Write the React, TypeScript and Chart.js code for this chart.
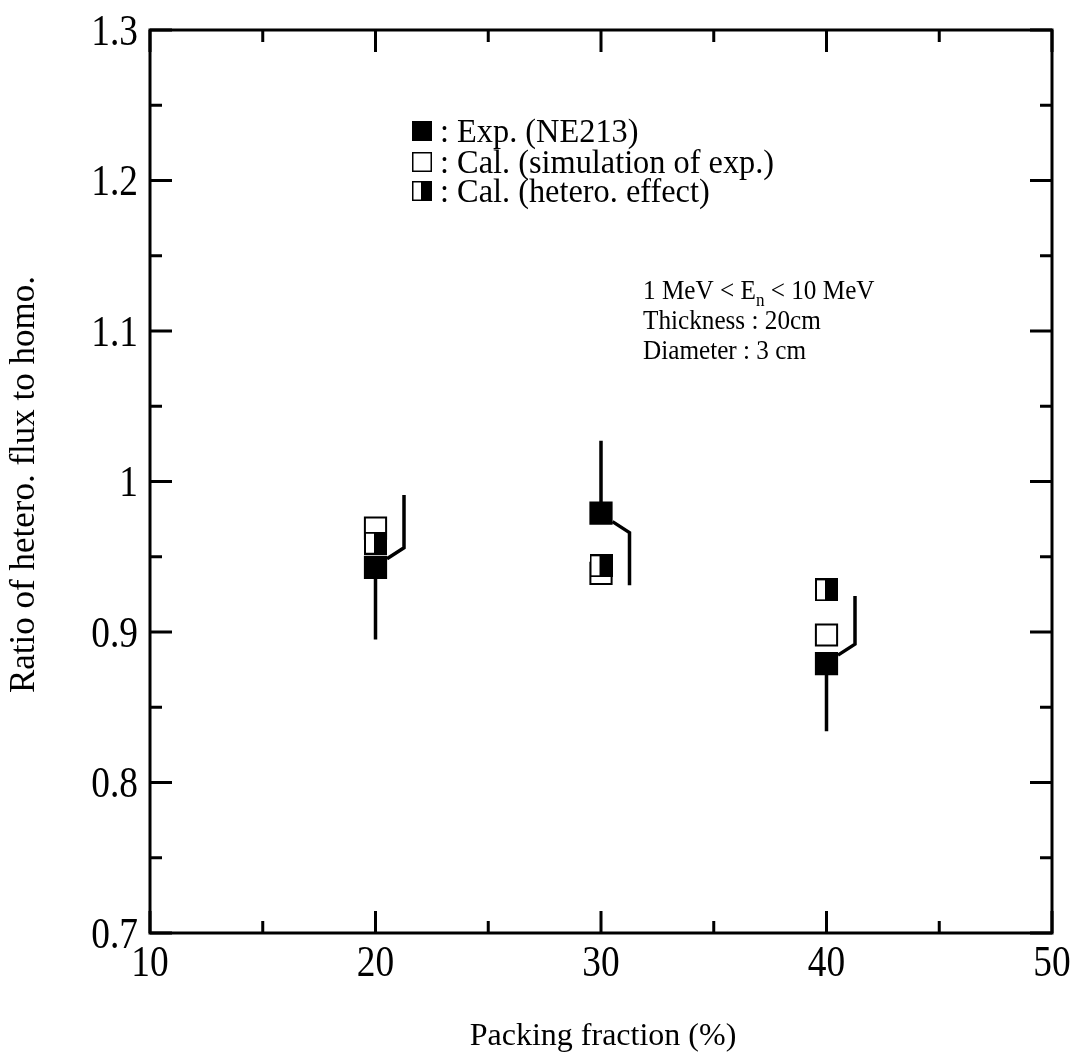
import React, { useEffect, useRef } from "react";
import { Chart, registerables } from "chart.js";

Chart.register(...registerables);

// ---------- data ----------
const packingFraction = [20, 30, 40];
const expValues = [0.943, 0.979, 0.879];
const expErrors = [0.048, 0.048, 0.045];
// which half of each error bar is drawn displaced to the right
const errorOffsetSide = ["up", "down", "up"];
const calSimValues = [0.969, 0.939, 0.898];
const calHeteroValues = [0.959, 0.944, 0.928];

const xMajorTicks = [10, 20, 30, 40, 50];
const xMinorTicks = [15, 25, 35, 45];
const xTickLabels = ["10", "20", "30", "40", "50"];
const yMajorTicks = [0.7, 0.8, 0.9, 1.0, 1.1, 1.2, 1.3];
const yMinorTicks = [0.75, 0.85, 0.95, 1.05, 1.15, 1.25];
const yTickLabels = ["0.7", "0.8", "0.9", "1", "1.1", "1.2", "1.3"];

const xTitle = "Packing fraction (%)";
const yTitle = "Ratio of hetero. flux to homo.";
const legendLabels = [": Exp. (NE213)", ": Cal. (simulation of exp.)", ": Cal. (hetero. effect)"];
const conditionLines = ["Thickness : 20cm", "Diameter : 3 cm"];

const FONT = "'Liberation Serif', 'Times New Roman', serif";

function txt(ctx: CanvasRenderingContext2D, s: string, x: number, y: number, size: number, sx: number, align: string) {
  ctx.save();
  ctx.font = `${size}px ${FONT}`;
  ctx.textBaseline = "alphabetic";
  ctx.textAlign = "left";
  const w = ctx.measureText(s).width * sx;
  const x0 = align === "right" ? x - w : align === "center" ? x - w / 2 : x;
  ctx.translate(x0, y);
  ctx.scale(sx, 1);
  ctx.fillStyle = "#000";
  ctx.fillText(s, 0, 0);
  ctx.restore();
  return w;
}

function makeHeteroImage(size: number) {
  const c = document.createElement("canvas");
  c.width = size;
  c.height = size;
  const g = c.getContext("2d")!;
  g.fillStyle = "#fff";
  g.fillRect(0, 0, size, size);
  g.fillStyle = "#000";
  g.fillRect(Math.round(size * 0.45), 0, size - Math.round(size * 0.45), size);
  g.lineWidth = 2;
  g.strokeStyle = "#000";
  g.strokeRect(1, 1, size - 2, size - 2);
  return c;
}

const decorPlugin = {
  id: "decor",
  beforeDatasetsDraw(chart: any) {
    const ctx: CanvasRenderingContext2D = chart.ctx;
    const xs = chart.scales.x;
    const ys = chart.scales.y;
    ctx.save();
    ctx.strokeStyle = "#000";
    ctx.lineWidth = 3.5;
    ctx.lineCap = "butt";
    const h = 11.5;
    for (let i = 0; i < packingFraction.length; i++) {
      const px = xs.getPixelForValue(packingFraction[i]);
      const py = ys.getPixelForValue(expValues[i]);
      const yUp = ys.getPixelForValue(expValues[i] + expErrors[i]);
      const yDn = ys.getPixelForValue(expValues[i] - expErrors[i]);
      ctx.beginPath();
      if (errorOffsetSide[i] === "up") {
        ctx.moveTo(px, py);
        ctx.lineTo(px, yDn);
        ctx.moveTo(px + h, py - h + 3);
        ctx.lineTo(px + h + 17, py - h - 8);
        ctx.lineTo(px + h + 17, yUp);
      } else {
        ctx.moveTo(px, py);
        ctx.lineTo(px, yUp);
        ctx.moveTo(px + h, py + h - 3);
        ctx.lineTo(px + h + 17, py + h + 8);
        ctx.lineTo(px + h + 17, yDn);
      }
      ctx.stroke();
    }
    ctx.restore();
  },
  afterDraw(chart: any) {
    const ctx: CanvasRenderingContext2D = chart.ctx;
    const xs = chart.scales.x;
    const ys = chart.scales.y;
    const a = chart.chartArea;
    ctx.save();
    ctx.strokeStyle = "#000";
    ctx.lineWidth = 3;
    ctx.strokeRect(a.left, a.top, a.right - a.left, a.bottom - a.top);
    const major = 22;
    const minor = 12;
    ctx.beginPath();
    const xt = (v: number, len: number) => {
      const p = xs.getPixelForValue(v);
      ctx.moveTo(p, a.bottom);
      ctx.lineTo(p, a.bottom - len);
      ctx.moveTo(p, a.top);
      ctx.lineTo(p, a.top + len);
    };
    const yt = (v: number, len: number) => {
      const p = ys.getPixelForValue(v);
      ctx.moveTo(a.left, p);
      ctx.lineTo(a.left + len, p);
      ctx.moveTo(a.right, p);
      ctx.lineTo(a.right - len, p);
    };
    xMajorTicks.forEach((v) => xt(v, major));
    xMinorTicks.forEach((v) => xt(v, minor));
    yMajorTicks.forEach((v) => yt(v, major));
    yMinorTicks.forEach((v) => yt(v, minor));
    ctx.stroke();

    // tick labels
    const tickSize = 44;
    const tickSx = 0.85;
    yMajorTicks.forEach((v, i) => {
      const p = ys.getPixelForValue(v);
      txt(ctx, yTickLabels[i], a.left - 12, p + 14.5, tickSize, tickSx, "right");
    });
    xMajorTicks.forEach((v, i) => {
      const p = xs.getPixelForValue(v);
      txt(ctx, xTickLabels[i], p, a.bottom + 43, tickSize, tickSx, "center");
    });

    // axis titles
    txt(ctx, xTitle, (a.left + a.right) / 2 + 2, 1045, 32, 1.0, "center");
    ctx.save();
    ctx.translate(34, (a.top + a.bottom) / 2 + 3);
    ctx.rotate(-Math.PI / 2);
    txt(ctx, yTitle, 0, 0, 35, 1.0, "center");
    ctx.restore();

    // legend
    const lx = 412;
    const ls = 20;
    const rows = [131, 162, 191];
    ctx.lineWidth = 1.5;
    ctx.fillStyle = "#000";
    ctx.fillRect(lx, rows[0] - ls / 2, ls, ls);
    ctx.fillStyle = "#fff";
    ctx.fillRect(lx, rows[1] - ls / 2, ls, ls);
    ctx.strokeRect(lx + 0.75, rows[1] - ls / 2 + 0.75, ls - 1.5, ls - 1.5);
    ctx.fillStyle = "#000";
    ctx.fillRect(lx + ls * 0.45, rows[2] - ls / 2, ls * 0.55, ls);
    ctx.strokeRect(lx + 0.75, rows[2] - ls / 2 + 0.75, ls - 1.5, ls - 1.5);
    legendLabels.forEach((s, i) => {
      txt(ctx, s, 440, rows[i] + 11, 33, 0.98, "left");
    });

    // condition text
    const cx = 643;
    const fs = 28;
    const sx = 0.9;
    const w = txt(ctx, "1 MeV < E", cx, 299, fs, sx, "left");
    const ws = txt(ctx, "n", cx + w, 306, 19, sx, "left");
    txt(ctx, " < 10 MeV", cx + w + ws, 299, fs, sx, "left");
    conditionLines.forEach((s, i) => {
      txt(ctx, s, cx, 329 + i * 30, fs, sx, "left");
    });
    ctx.restore();
  },
};

export default function App() {
  const ref = useRef<HTMLCanvasElement>(null);
  useEffect(() => {
    if (!ref.current) return;
    const hetero = makeHeteroImage(23);
    const chart = new Chart(ref.current, {
      type: "scatter",
      data: {
        datasets: [
          {
            label: "Exp. (NE213)",
            data: packingFraction.map((x, i) => ({ x, y: expValues[i] })),
            pointStyle: "rect",
            pointRadius: 15,
            pointBorderWidth: 2,
            backgroundColor: "#000",
            borderColor: "#000",
          },
          {
            label: "Cal. (hetero. effect)",
            data: packingFraction.map((x, i) => ({ x, y: calHeteroValues[i] })),
            pointStyle: hetero as any,
            pointRadius: 12,
          },
          {
            label: "Cal. (simulation of exp.)",
            data: packingFraction.map((x, i) => ({ x, y: calSimValues[i] })),
            pointStyle: "rect",
            pointRadius: 15,
            pointBorderWidth: 2,
            backgroundColor: "#fff",
            borderColor: "#000",
          },
        ],
      },
      options: {
        responsive: false,
        animation: false,
        events: [],
        layout: { padding: { left: 150, top: 30, right: 29, bottom: 128 } },
        plugins: { legend: { display: false }, tooltip: { enabled: false } },
        scales: {
          x: { type: "linear", min: 10, max: 50, display: false },
          y: { type: "linear", min: 0.7, max: 1.3, display: false },
        },
      },
      plugins: [decorPlugin],
    });
    return () => chart.destroy();
  }, []);
  return (
    <div style={{ position: "absolute", left: 0, top: 0, width: 1081, height: 1061, background: "#fff" }}>
      <canvas ref={ref} width={1081} height={1061} style={{ display: "block" }} />
    </div>
  );
}
